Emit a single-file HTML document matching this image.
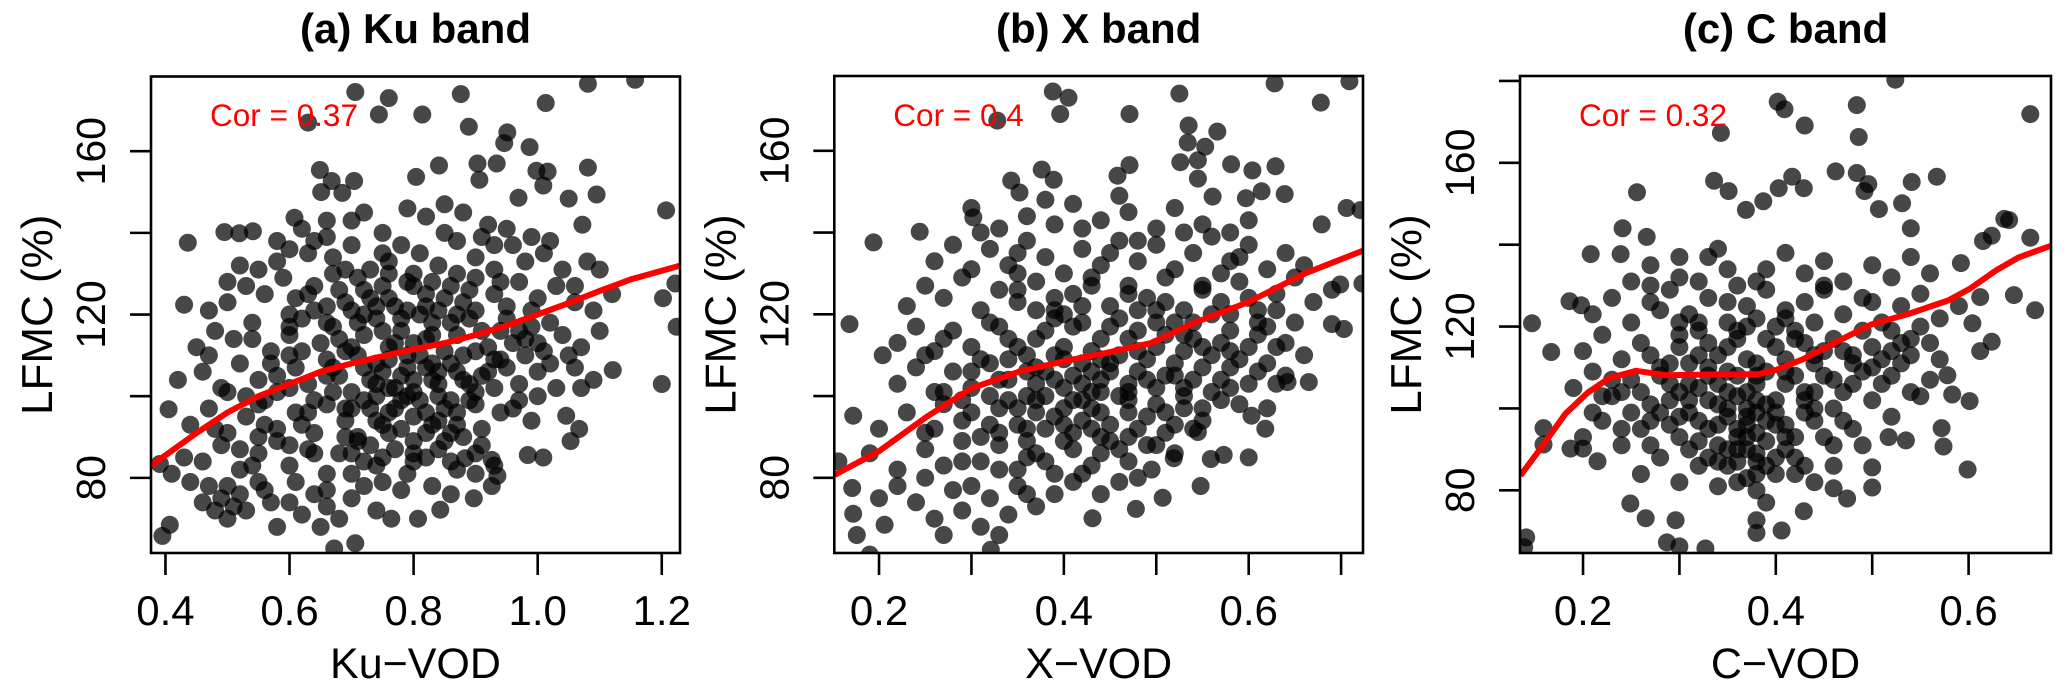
<!DOCTYPE html>
<html><head><meta charset="utf-8"><style>
html,body{margin:0;padding:0;background:#fff;}
svg{display:block;font-family:"Liberation Sans",Arial,sans-serif;}
</style></head><body>
<svg id="chart" width="2067" height="692" viewBox="0 0 2067 692" xmlns="http://www.w3.org/2000/svg"></svg>
<script>
// ---------- Data ----------
const kuPoints=[[0.706,174.5],[0.76,173],[0.876,174],[1.081,176.5],[1.157,177.5],[1.013,171.8],[0.814,169],[0.744,169],[0.889,166],[0.63,167],[0.951,164.6],[0.946,162],[0.987,161],[0.934,157],[0.903,157],[0.841,156.5],[0.998,155.2],[1.016,155],[1.081,156],[0.649,155.4],[0.668,152.7],[0.704,152.7],[0.804,153.7],[0.906,153],[1.009,151.6],[0.651,150],[0.685,149.8],[0.969,148.6],[1.05,148.4],[1.095,149.4],[1.207,145.5],[0.608,143.7],[1.072,142],[0.436,137.6],[0.495,140.2],[0.519,139.9],[0.541,140.4],[0.43,122.4],[1.222,127.6],[1.202,124],[1.224,117],[1.2,103],[1.121,106.4],[0.405,96.8],[0.391,83.4],[0.395,65.8],[0.407,68.5],[1.009,85],[0.984,85.6],[1.053,89],[1.067,92],[1.046,95.2],[0.807,70],[0.764,70],[0.706,64],[0.672,62.7],[0.843,72.2],[0.926,78],[0.935,80.5],[0.897,75],[0.883,84.8],[0.926,84.4],
[0.62,141],[0.66,139],[0.7,143],[0.72,145],[0.79,146],[0.82,144],[0.85,147],[0.88,145],[0.92,142],[0.95,141],[0.99,139],[1.02,138],[0.75,140],[0.64,138],
[0.52,132],[0.55,131],[0.58,133],[0.6,136],[0.63,135],[0.67,134],[0.7,137],[0.73,131],[0.76,133],[0.78,137],[0.81,135],[0.84,132],[0.87,138],[0.9,134],[0.93,131],[0.96,137],[0.98,133],[1.01,135],[1.04,131],[1.08,133],[1.1,131],[0.69,131],[0.8,130],[0.91,139],
[0.47,121],[0.5,123],[0.53,127],[0.56,125],[0.59,129],[0.61,124],[0.64,127],[0.66,122],[0.68,126],[0.71,129],[0.73,124],[0.75,127],[0.77,122],[0.79,128],[0.82,125],[0.84,121],[0.86,127],[0.88,123],[0.9,129],[0.93,125],[0.95,122],[0.97,128],[1.0,124],[1.03,127],[1.06,123],[1.09,121],[1.12,125],[0.7,121],[0.81,120],[0.6,120],
[0.45,112],[0.48,116],[0.51,114],[0.54,118],[0.57,111],[0.6,115],[0.62,119],[0.65,113],[0.67,117],[0.69,111],[0.72,115],[0.74,119],[0.76,112],[0.78,116],[0.8,113],[0.83,118],[0.85,111],[0.87,115],[0.89,119],[0.92,112],[0.94,116],[0.96,113],[0.99,117],[1.01,111],[1.04,115],[1.07,112],[1.1,116],[0.71,118],[0.82,114],[0.9,111],
[0.42,104],[0.46,106],[0.49,102],[0.52,108],[0.55,104],[0.58,101],[0.61,107],[0.63,103],[0.66,109],[0.68,105],[0.7,101],[0.72,107],[0.74,103],[0.76,109],[0.78,105],[0.8,101],[0.82,107],[0.84,103],[0.86,108],[0.88,104],[0.9,101],[0.92,106],[0.94,109],[0.97,103],[1.0,106],[1.03,102],[1.06,107],[1.09,104],[0.77,102],[0.83,104],[0.79,107],[0.73,104],
[0.44,93],[0.47,97],[0.5,91],[0.53,95],[0.56,99],[0.58,92],[0.61,96],[0.64,91],[0.66,98],[0.69,94],[0.71,90],[0.73,97],[0.75,93],[0.78,99],[0.8,95],[0.82,91],[0.85,97],[0.87,93],[0.89,99],[0.91,92],[0.94,96],[0.97,99],[0.99,94],[0.76,96],[0.84,94],
[0.46,84],[0.49,88],[0.52,82],[0.55,86],[0.58,89],[0.6,83],[0.63,87],[0.66,81],[0.68,86],[0.71,89],[0.74,83],[0.77,87],[0.79,81],[0.82,85],[0.85,89],[0.87,82],[0.9,86],[0.93,83],[0.72,84],
[0.46,74],[0.48,72],[0.49,75],[0.5,70],[0.51,73],[0.52,76],[0.47,78],[0.53,72],[0.56,77],[0.58,68],[0.6,74],[0.62,71],[0.64,76],[0.66,73],[0.68,70],[0.7,75],[0.72,78],[0.65,68],[0.74,72],[0.78,77],[0.83,78],[0.86,76],[0.61,79],[0.55,79],[0.44,79],[0.43,85],[0.41,81]];
const kuCore=[[0.63,125],[0.67,130],[0.72,126],[0.76,124],[0.8,127],[0.85,124],[0.89,126],[0.94,128],[0.99,121],
[0.6,117],[0.64,121],[0.68,114],[0.72,120],[0.75,116],[0.79,121],[0.83,115],[0.87,120],[0.91,116],[0.95,119],[0.98,114],[1.02,118],
[0.57,108],[0.62,111],[0.66,105],[0.7,112],[0.74,108],[0.77,113],[0.81,110],[0.84,106],[0.88,110],[0.91,105],[0.95,107],[0.98,110],[1.02,108],
[0.55,98],[0.6,102],[0.63,96],[0.67,101],[0.7,97],[0.74,100],[0.77,97],[0.8,104],[0.81,99],[0.84,100],[0.87,96],[0.9,98],[0.93,102],[0.96,97],
[0.55,90],[0.6,88],[0.64,86],[0.69,90],[0.73,88],[0.76,91],[0.8,89],[0.84,87],[0.88,90],[0.91,88],
[0.5,78],[0.54,83],[0.57,74],[0.66,77],[0.7,81],[0.75,79],[0.8,84],[0.86,84],[0.9,81],
[0.5,101],[0.47,110],[0.54,114],[0.5,128],[0.58,138],[0.66,143],[0.75,135],[0.85,140],[0.93,137],[1.06,127],[1.05,110],[1.07,102],[1.0,100],[0.48,92],[0.52,87]];
const kuDense=[[0.69,123],[0.74,122],[0.78,119],[0.82,122],[0.86,118],[0.9,121],[0.66,118],[0.71,110],[0.75,106],[0.79,110],[0.83,108],[0.87,106],[0.93,109],[0.67,107],[0.72,99],[0.76,102],[0.79,100],[0.82,96],[0.86,99],[0.89,103],[0.64,99],[0.69,97],[0.74,94],[0.78,92],[0.83,93],[0.62,93],[0.7,86],[0.75,85],[0.8,86],[0.86,91],[0.58,105],[0.6,110],[0.97,116],[1.0,113],[0.56,93],[0.53,100],[0.87,130],[0.76,130],[0.83,128]];
const kuSmoothX=[0.377,0.45,0.5,0.55,0.6,0.65,0.7,0.75,0.8,0.85,0.9,0.95,1.0,1.05,1.1,1.15,1.23];
const kuSmoothY=[83,91,96,100,103,106,108,109.8,111.5,113,115,117.3,120,122.8,125.8,128.6,132];

const xPoints=[[0.388,174.5],[0.405,173],[0.396,169],[0.471,169],[0.525,174],[0.628,176.5],[0.709,177],[0.678,171.8],[0.328,167.4],[0.535,166.2],[0.566,164.7],[0.534,162],[0.553,161],[0.526,157.2],[0.545,157.7],[0.581,156.7],[0.604,155.2],[0.629,156.2],[0.376,155.4],[0.343,152.7],[0.389,152.9],[0.471,156.5],[0.458,153.9],[0.545,153.2],[0.352,149.8],[0.561,148.8],[0.597,148.4],[0.614,150.1],[0.639,149.4],[0.706,146],[0.721,145.5],[0.679,142],[0.302,143.7],[0.244,140.2],[0.194,137.6],[0.168,117.6],[0.204,110],[0.69,117.6],[0.703,116.4],[0.723,127.5],[0.699,127.3],[0.665,103.4],[0.642,103.4],[0.156,84],[0.172,95.2],[0.171,77.5],[0.172,71.2],[0.176,66],[0.206,68.5],[0.19,61.2],[0.321,62.4],[0.431,70.1],[0.478,72.4],[0.507,75.1],[0.548,78],[0.495,82],[0.559,84.6],[0.573,85.6],[0.6,85],[0.618,92],[0.603,95.2],[0.59,98],[0.545,91.2],[0.519,84.8],
[0.3,146],[0.33,141],[0.36,144],[0.39,142],[0.41,147],[0.44,143],[0.47,145],[0.5,141],[0.52,146],[0.55,142],[0.58,140],[0.6,143],[0.38,148],[0.46,149],
[0.26,133],[0.28,137],[0.3,131],[0.32,136],[0.34,132],[0.36,138],[0.38,134],[0.4,130],[0.42,136],[0.44,132],[0.46,138],[0.48,133],[0.5,137],[0.52,131],[0.54,135],[0.56,139],[0.58,133],[0.6,137],[0.62,131],[0.64,135],[0.66,132],[0.35,130],[0.45,135],[0.57,130],
[0.23,122],[0.25,127],[0.27,124],[0.29,129],[0.31,121],[0.33,126],[0.35,123],[0.37,128],[0.39,121],[0.41,125],[0.43,129],[0.45,122],[0.47,127],[0.49,124],[0.51,129],[0.53,121],[0.55,126],[0.57,123],[0.59,128],[0.61,121],[0.63,125],[0.65,129],[0.67,123],[0.69,126],[0.4,120],[0.48,121],[0.56,120],
[0.22,113],[0.24,117],[0.26,111],[0.28,116],[0.3,112],[0.32,118],[0.34,114],[0.36,110],[0.38,116],[0.4,112],[0.42,118],[0.44,114],[0.46,110],[0.48,116],[0.5,112],[0.52,118],[0.54,114],[0.56,110],[0.58,116],[0.6,112],[0.62,117],[0.64,113],[0.66,110],[0.39,119],[0.45,117],[0.53,111],
[0.22,103],[0.24,107],[0.26,101],[0.28,106],[0.3,102],[0.32,108],[0.34,104],[0.36,100],[0.38,106],[0.4,102],[0.42,108],[0.44,104],[0.46,100],[0.48,106],[0.5,102],[0.52,108],[0.54,104],[0.56,101],[0.58,107],[0.6,103],[0.62,108],[0.64,105],[0.41,105],[0.47,103],[0.37,103],[0.43,101],[0.51,105],
[0.2,92],[0.23,96],[0.25,91],[0.27,98],[0.29,94],[0.31,90],[0.33,97],[0.35,93],[0.37,99],[0.39,95],[0.41,91],[0.43,97],[0.45,93],[0.47,99],[0.49,95],[0.51,91],[0.53,97],[0.55,94],[0.57,99],[0.42,94],[0.38,92],
[0.19,86],[0.22,82],[0.25,87],[0.27,83],[0.29,89],[0.31,84],[0.33,88],[0.35,82],[0.37,86],[0.39,81],[0.41,87],[0.43,83],[0.45,89],[0.47,84],[0.49,88],[0.52,86],
[0.24,74],[0.26,70],[0.28,77],[0.29,72],[0.31,68],[0.32,75],[0.34,71],[0.35,78],[0.37,73],[0.39,76],[0.41,79],[0.44,76],[0.46,79],[0.27,66],[0.33,66],[0.22,78],[0.2,75]];
const xCore=[[0.35,126],[0.39,124],[0.43,127],[0.47,125],[0.51,123],[0.55,127],[0.6,124],[0.63,121],
[0.33,117],[0.37,114],[0.41,117],[0.43,111],[0.47,114],[0.5,118],[0.53,115],[0.57,113],[0.61,115],[0.65,118],
[0.3,106],[0.34,109],[0.37,107],[0.4,109],[0.43,106],[0.45,108],[0.49,109],[0.52,105],[0.55,107],[0.58,111],[0.61,106],
[0.27,101],[0.32,100],[0.35,97],[0.38,100],[0.4,97],[0.42,99],[0.44,101],[0.47,96],[0.5,98],[0.53,100],[0.55,97],[0.58,102],
[0.26,92],[0.3,96],[0.33,91],[0.36,89],[0.4,93],[0.44,90],[0.48,92],[0.5,88],[0.52,93],[0.46,87],
[0.3,78],[0.33,82],[0.36,76],[0.38,84],[0.42,81],[0.48,80],[0.25,80],[0.29,84],
[0.31,140],[0.35,135],[0.42,141],[0.48,138],[0.53,140],[0.59,134],[0.27,114],[0.25,110],[0.63,103],[0.62,97]];
const xDense=[[0.37,121],[0.42,122],[0.46,119],[0.5,121],[0.54,118],[0.58,120],[0.35,112],[0.39,110],[0.44,109],[0.48,111],[0.51,115],[0.55,112],[0.59,109],[0.33,104],[0.36,106],[0.39,104],[0.42,103],[0.45,106],[0.49,104],[0.53,102],[0.57,104],[0.34,99],[0.37,96],[0.41,99],[0.44,96],[0.47,101],[0.51,96],[0.54,92],[0.32,93],[0.36,92],[0.4,89],[0.43,92],[0.47,90],[0.29,99],[0.31,109],[0.61,118],[0.63,112],[0.36,85],[0.44,86]];
const xSmoothX=[0.152,0.2,0.252,0.3,0.352,0.4,0.447,0.495,0.542,0.6,0.661,0.724];
const xSmoothY=[80.7,86.5,95,101.9,106,108.5,110.6,113,118,123,130,135.6];

const cPoints=[[0.524,180.3],[0.402,174.9],[0.409,173.1],[0.484,174.1],[0.43,169.1],[0.486,166.3],[0.343,167.3],[0.664,171.9],[0.462,157.9],[0.484,157.5],[0.417,156.6],[0.567,156.6],[0.541,155.3],[0.496,154.8],[0.336,155.6],[0.351,153.1],[0.403,153.8],[0.429,153.8],[0.256,152.8],[0.492,153.1],[0.531,150.1],[0.507,148.7],[0.387,150.6],[0.369,148.5],[0.642,146],[0.637,146.3],[0.54,144],[0.624,142.2],[0.664,141.7],[0.615,140.9],[0.241,144],[0.266,141.9],[0.208,137.7],[0.239,137.7],[0.592,135.5],[0.647,127.7],[0.669,124],[0.612,127.2],[0.624,116.3],[0.612,114],[0.604,120.8],[0.601,101.8],[0.583,103.4],[0.578,108.1],[0.599,85.1],[0.574,90.7],[0.572,95.2],[0.535,92.2],[0.517,93],[0.5,80.7],[0.5,85.6],[0.474,78],[0.46,80.5],[0.429,74.9],[0.406,70.2],[0.38,69.6],[0.38,72.7],[0.327,65.8],[0.3,66.3],[0.287,67.3],[0.296,72.7],[0.265,73.2],[0.249,76.8],[0.147,120.8],[0.167,113.8],[0.159,95.2],[0.159,91.2],[0.141,68.5],[0.139,66.1],[0.186,126.2],[0.198,125.2],[0.187,90.2],[0.215,87.1],[0.2,90.2],
[0.25,131],[0.27,135],[0.3,132],[0.33,137],[0.35,134],[0.38,131],[0.41,138],[0.43,133],[0.45,136],[0.47,131],[0.5,135],[0.52,132],[0.54,137],[0.56,133],[0.34,139],
[0.21,123],[0.23,127],[0.25,121],[0.27,126],[0.29,129],[0.31,123],[0.33,127],[0.35,121],[0.37,125],[0.39,129],[0.41,122],[0.43,126],[0.45,129],[0.47,123],[0.49,127],[0.51,121],[0.53,125],[0.55,128],[0.57,122],[0.59,125],[0.36,130],
[0.2,114],[0.22,118],[0.24,112],[0.26,116],[0.28,110],[0.3,115],[0.32,119],[0.34,113],[0.36,117],[0.38,111],[0.4,115],[0.42,119],[0.44,113],[0.46,117],[0.48,111],[0.5,115],[0.52,119],[0.54,113],[0.56,116],[0.33,110],[0.37,120],
[0.19,105],[0.21,109],[0.23,103],[0.25,107],[0.27,101],[0.29,106],[0.31,102],[0.33,108],[0.35,104],[0.37,100],[0.38,106],[0.4,102],[0.42,108],[0.44,104],[0.46,100],[0.48,106],[0.5,102],[0.52,108],[0.54,104],[0.56,107],[0.36,103],[0.34,101],[0.39,109],
[0.2,93],[0.22,97],[0.24,91],[0.26,95],[0.28,99],[0.3,93],[0.32,97],[0.34,91],[0.36,95],[0.37,98],[0.39,92],[0.41,96],[0.43,99],[0.45,93],[0.47,97],[0.49,91],[0.35,90],[0.38,94],
[0.26,84],[0.28,88],[0.3,82],[0.32,86],[0.34,81],[0.36,87],[0.37,83],[0.38,89],[0.4,84],[0.42,88],[0.44,82],[0.46,86],[0.38,80],[0.39,77]];
const cCore=[[0.28,124],[0.32,121],[0.35,126],[0.38,122],[0.41,124],[0.44,121],
[0.27,113],[0.3,118],[0.31,111],[0.35,115],[0.37,112],[0.39,117],[0.41,112],[0.43,116],[0.47,114],[0.49,119],[0.51,112],[0.53,116],[0.55,120],
[0.24,104],[0.28,108],[0.3,104],[0.32,105],[0.34,106],[0.36,108],[0.37,104],[0.39,101],[0.41,106],[0.43,102],[0.45,108],[0.47,104],[0.49,109],[0.51,106],[0.53,111],
[0.25,99],[0.29,96],[0.31,99],[0.33,95],[0.35,98],[0.36,93],[0.37,96],[0.38,99],[0.4,96],[0.42,93],[0.44,97],[0.46,91],[0.48,95],
[0.27,91],[0.31,90],[0.33,88],[0.35,86],[0.37,90],[0.39,86],[0.41,90],[0.43,86],[0.38,84],[0.36,82],
[0.22,103],[0.21,99],[0.24,95],[0.57,112],[0.55,103],[0.52,98],[0.3,137],[0.27,130],[0.32,131],[0.39,134],[0.45,130],[0.5,126]];
const cDense=[[0.3,121],[0.33,116],[0.36,119],[0.4,120],[0.42,117],[0.45,114],[0.29,111],[0.32,113],[0.35,109],[0.38,108],[0.41,109],[0.44,111],[0.48,113],[0.26,104],[0.31,106],[0.33,102],[0.35,100],[0.38,102],[0.4,99],[0.43,104],[0.46,107],[0.5,110],[0.27,97],[0.3,98],[0.32,92],[0.34,96],[0.37,93],[0.39,97],[0.41,93],[0.44,100],[0.34,87],[0.36,90],[0.38,87],[0.4,88],[0.42,84],[0.52,114],[0.54,117],[0.29,102],[0.23,107]];
const cSmoothX=[0.135,0.159,0.182,0.205,0.227,0.255,0.287,0.332,0.382,0.4,0.428,0.469,0.5,0.538,0.579,0.601,0.629,0.652,0.685];
const cSmoothY=[83.6,91.2,98.8,103.9,107.4,109.2,108.1,108.3,108.4,109.4,112,117,120.6,123.1,126.4,129.2,133.8,136.9,139.7];

const kuXTicks=[0.4,0.6,0.8,1.0,1.2];
const kuXLabels=["0.4","0.6","0.8","1.0","1.2"];
const xXTicks=[0.2,0.3,0.4,0.5,0.6,0.7];
const xXLabels=["0.2","","0.4","","0.6",""];
const cXTicks=[0.2,0.3,0.4,0.5,0.6];
const cXLabels=["0.2","","0.4","","0.6"];
const abYTicks=[80,100,120,140,160];
const abYLabels=["80","","120","","160"];
const cYTicks=[80,100,120,140,160,180];
const cYLabels=["80","","120","","160",""];

// ---------- Layout ----------
const panels=[
 {key:'ku',title:'(a) Ku band',xlab:'Ku\u2212VOD',cor:'Cor = 0.37',L:151,R:680,T:76.5,B:553,x0:0.3767,x1:1.2294,y0:61.6,y1:178.3,pts:kuPoints.concat(kuCore,kuDense),sx:kuSmoothX,sy:kuSmoothY,xt:kuXTicks,xl:kuXLabels,yt:abYTicks,yl:abYLabels},
 {key:'x',title:'(b) X band',xlab:'X\u2212VOD',cor:'Cor = 0.4',L:834.3,R:1363,T:76,B:553,x0:0.1516,x1:0.7237,y0:61.6,y1:178.3,pts:xPoints.concat(xCore,xDense),sx:xSmoothX,sy:xSmoothY,xt:xXTicks,xl:xXLabels,yt:abYTicks,yl:abYLabels},
 {key:'c',title:'(c) C band',xlab:'C\u2212VOD',cor:'Cor = 0.32',L:1520,R:2051,T:76,B:553,x0:0.1346,x1:0.6855,y0:64.7,y1:181.2,pts:cPoints.concat(cCore,cDense),sx:cSmoothX,sy:cSmoothY,xt:cXTicks,xl:cXLabels,yt:cYTicks,yl:cYLabels}
];
const NS='http://www.w3.org/2000/svg';
const svg=document.getElementById('chart');
function mk(tag,attrs,parent){const e=document.createElementNS(NS,tag);for(const k in attrs)e.setAttribute(k,attrs[k]);(parent||svg).appendChild(e);return e;}

panels.forEach(function(p,i){
 const sx=v=>p.L+(v-p.x0)/(p.x1-p.x0)*(p.R-p.L);
 const sy=v=>p.B-(v-p.y0)/(p.y1-p.y0)*(p.B-p.T);
 const g=mk('g',{});
 
 
 const cp=mk('clipPath',{id:'clip'+i},g);
 mk('rect',{x:p.L,y:p.T,width:p.R-p.L,height:p.B-p.T},cp);
 const cx=(p.L+p.R)/2;
 const t=mk('text',{x:cx,y:43,'text-anchor':'middle','font-size':42,'font-weight':'bold',fill:'#000'},g);
 t.textContent=p.title;
 
 
 const pg=mk('g',{'clip-path':'url(#clip'+i+')'},g);
 
 
 p.pts.forEach(function(d){
  const c=mk('circle',{cx:sx(d[0]).toFixed(1),cy:sy(d[1]).toFixed(1),r:9,fill:'rgba(0,0,0,0.72)'},pg);
  
  
 });
 let dstr='';
 p.sx.forEach(function(v,j){dstr+=(j?'L':'M')+sx(v).toFixed(1)+','+sy(p.sy[j]).toFixed(1);});
 const ln=mk('path',{d:dstr,fill:'none',stroke:'#ff0000','stroke-width':6,'stroke-linejoin':'round','clip-path':'url(#clip'+i+')'},g);
 
 
 const ct=mk('text',{x:p.L+59,y:126,'font-size':31.5,fill:'#ff0000'},g);
 ct.textContent=p.cor;
 
 
 const box=mk('rect',{x:p.L,y:p.T,width:p.R-p.L,height:p.B-p.T,fill:'none',stroke:'#000','stroke-width':2.6},g);
 
 
 const xa=mk('g',{},g);
 
 
 p.xt.forEach(function(v,j){
  const X=sx(v);
  mk('line',{x1:X,x2:X,y1:p.B,y2:p.B+22,stroke:'#000','stroke-width':2.6},xa);
  if(p.xl[j]){const tl=mk('text',{x:X,y:625,'text-anchor':'middle','font-size':42},xa);tl.textContent=p.xl[j];
   
   }
 });
 const xt=mk('text',{x:cx,y:678,'text-anchor':'middle','font-size':43},g);
 xt.textContent=p.xlab;
 
 
 const ya=mk('g',{},g);
 
 
 p.yt.forEach(function(v,j){
  const Y=sy(v);
  mk('line',{x1:p.L-21,x2:p.L,y1:Y,y2:Y,stroke:'#000','stroke-width':2.6},ya);
  if(p.yl[j]){const bx=p.L-46;const tl=mk('text',{x:bx,y:Y,'text-anchor':'middle','font-size':41,transform:'rotate(-90 '+bx+' '+Y+')'},ya);tl.textContent=p.yl[j];
   
   }
 });
 const tx=p.L-99, ty=(p.T+p.B)/2;
 const yt=mk('text',{x:tx,y:ty,'text-anchor':'middle','font-size':44,transform:'rotate(-90 '+tx+' '+ty+')'},g);
 yt.textContent='LFMC (%)';
 
 
});
</script>
</body></html>
